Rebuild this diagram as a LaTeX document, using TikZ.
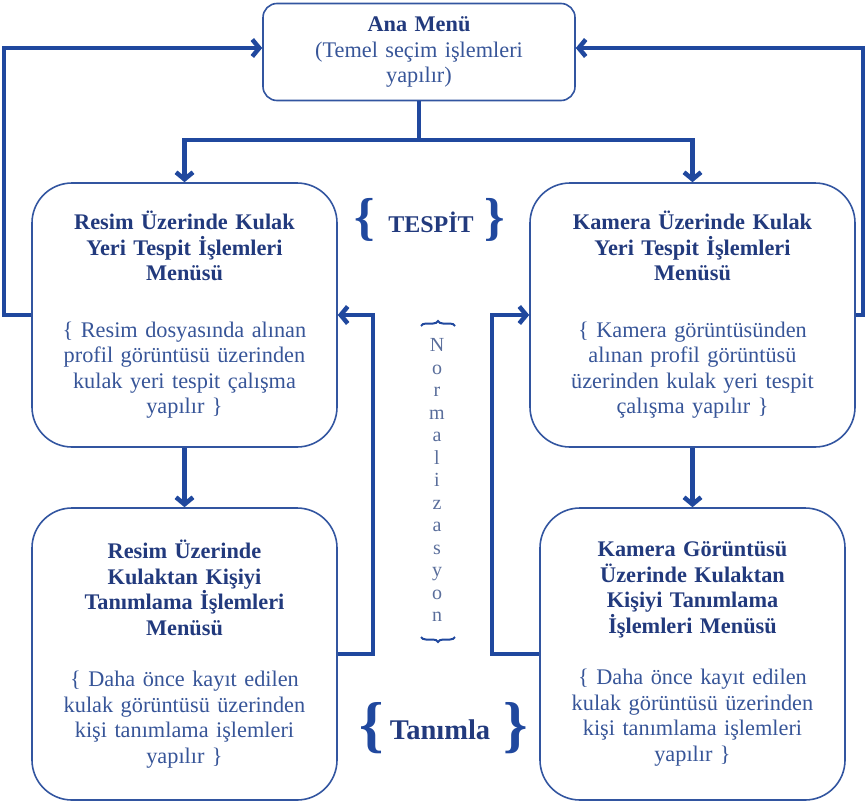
\documentclass[tikz,border=0pt]{standalone}
\usepackage{fontspec}
\setmainfont{Liberation Serif}
\usetikzlibrary{arrows.meta,positioning,decorations.pathreplacing}
\definecolor{boxblue}{RGB}{50,85,160}
\definecolor{flowblue}{RGB}{32,72,158}
\definecolor{titleblue}{RGB}{34,58,125}
\definecolor{descblue}{RGB}{55,85,152}
\definecolor{normgray}{RGB}{90,110,155}
\newcommand{\baslik}[1]{{\bfseries\color{titleblue}#1}}

\begin{document}
\begin{tikzpicture}[x=1pt, y=-1pt,
  menubox/.style={draw=boxblue, line width=1.6pt, rounded corners=40pt, align=center, text=descblue, inner sep=0pt, font=\fontsize{22.3}{25.5}\selectfont},
  flow/.style={draw=flowblue, line width=4.5pt, -{Straight Barb[length=7pt,width=17pt]}},
  plainflow/.style={draw=flowblue, line width=4.5pt},
  bigbrace/.style={text=flowblue, inner sep=0pt},
  normbrace/.style={draw=flowblue, line width=2pt, decorate, decoration={brace, amplitude=5pt}}]
\useasboundingbox (0,0) rectangle (867,806);
% Main menu
\node[menubox, rounded corners=14pt, minimum width=312pt, minimum height=97pt, text width=305pt] (ana) at (419,52)
  {\baslik{Ana Menü}\\(Temel seçim işlemleri\\yapılır)};
% Detection menus
\node[menubox, minimum width=305pt, minimum height=264pt, text width=300pt] (resimT) at (184.5,315)
  {\baslik{Resim Üzerinde Kulak\\Yeri Tespit İşlemleri\\Menüsü}\\[31pt]\{ Resim dosyasında alınan\\profil görüntüsü üzerinden\\kulak yeri tespit çalışma\\yapılır \}};
\node[menubox, minimum width=325pt, minimum height=264pt, text width=318pt] (kameraT) at (692.5,315)
  {\baslik{Kamera Üzerinde Kulak\\Yeri Tespit İşlemleri\\Menüsü}\\[31pt]\{ Kamera görüntüsünden\\alınan profil görüntüsü\\üzerinden kulak yeri tespit\\çalışma yapılır \}};
% Recognition menus
\node[menubox, minimum width=305pt, minimum height=292pt, text width=300pt] (resimB) at (184.5,654)
  {\baslik{Resim Üzerinde\\Kulaktan Kişiyi\\Tanımlama İşlemleri\\Menüsü}\\[26pt]\{ Daha önce kayıt edilen\\kulak görüntüsü üzerinden\\kişi tanımlama işlemleri\\yapılır \}};
\node[menubox, minimum width=305pt, minimum height=292pt, text width=300pt] (kameraB) at (692.5,654)
  {\baslik{Kamera Görüntüsü\\Üzerinde Kulaktan\\Kişiyi Tanımlama\\İşlemleri Menüsü}\\[26pt]\{ Daha önce kayıt edilen\\kulak görüntüsü üzerinden\\kişi tanımlama işlemleri\\yapılır \}};
% Labels between columns
\node[bigbrace, font=\fontsize{52}{52}\selectfont\bfseries] (tespitL) at (365,220) {\{};
\node[text=titleblue, font=\fontsize{24}{24}\selectfont\bfseries] (tespit) at (431,222) {TESPİT};
\node[bigbrace, font=\fontsize{52}{52}\selectfont\bfseries] (tespitR) at (495,220) {\}};
\node[bigbrace, font=\fontsize{62}{62}\selectfont\bfseries] (tanimlaL) at (372,728) {\{};
\node[text=titleblue, font=\fontsize{28.5}{28.5}\selectfont\bfseries] (tanimla) at (440,730) {Tanımla};
\node[bigbrace, font=\fontsize{62}{62}\selectfont\bfseries] (tanimlaR) at (516,728) {\}};
\node[align=center, text=normgray, font=\fontsize{20}{22.5}\selectfont] (norm) at (437,480)
  {N\\o\\r\\m\\a\\l\\i\\z\\a\\s\\y\\o\\n};
\draw[normbrace] (421,326) -- (455,326);
\draw[normbrace] (455,637) -- (421,637);
% Arrows
\coordinate (split) at (419,140);
\draw[plainflow] (ana.south) -- (split);
\draw[flow] (split) -| (resimT.north);
\draw[flow] (split) -| (kameraT.north);
\draw[flow] (resimT.west) -- ++(-27,0) |- ([yshift=4pt]ana.west);
\draw[flow] (kameraT.east) -- ++(7,0) |- ([yshift=4pt]ana.east);
\draw[flow] (resimT.south) -- (resimB.north);
\draw[flow] (kameraT.south) -- (kameraB.north);
\draw[flow] (resimB.east) -- ++(35,0) |- (resimT.east);
\draw[flow] (kameraB.west) -- ++(-47,0) |- (kameraT.west);
\end{tikzpicture}
\end{document}
